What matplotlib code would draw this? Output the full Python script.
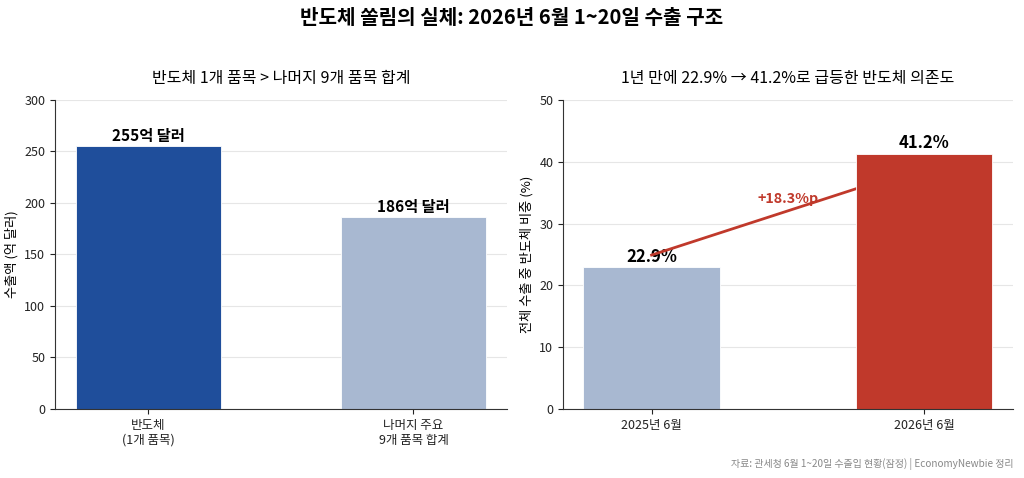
import matplotlib
matplotlib.use("Agg")
import matplotlib.pyplot as plt

plt.rcParams['font.family'] = ['Noto Sans CJK KR', 'DejaVu Sans']

# data
left_cats = ['반도체\n(1개 품목)', '나머지 주요\n9개 품목 합계']
left_vals = [255, 186]
left_labels = ['255억 달러', '186억 달러']

right_cats = ['2025년 6월', '2026년 6월']
right_vals = [22.9, 41.2]
right_labels = ['22.9%', '41.2%']
diff_label = '+18.3%p'

blue_dark = '#1f4e9b'
blue_light = '#a8b8d1'
red = '#c0392b'

fig = plt.figure(figsize=(10.24, 4.78), dpi=100)
ax1 = fig.add_axes([0.0537, 0.1444, 0.4413, 0.6466])
ax2 = fig.add_axes([0.5498, 0.1444, 0.4392, 0.6466])

for ax in (ax1, ax2):
    ax.spines['top'].set_visible(False)
    ax.spines['right'].set_visible(False)
    ax.spines['left'].set_color('#333333')
    ax.spines['bottom'].set_color('#333333')
    ax.yaxis.grid(True, color='#e6e6e6', linewidth=0.8, zorder=0)
    ax.set_axisbelow(True)
    ax.tick_params(labelsize=9, colors='#222222')

# left panel
x1 = range(len(left_cats))
ax1.bar(x1, left_vals, width=0.55, color=[blue_dark, blue_light],
        edgecolor='white', linewidth=0.6, zorder=2)
for i, (v, t) in enumerate(zip(left_vals, left_labels)):
    ax1.text(i, v + 2, t, ha='center', va='bottom', fontsize=11,
             fontweight='bold', zorder=1)
ax1.set_xticks(list(x1))
ax1.set_xticklabels(left_cats)
ax1.set_ylim(0, 300)
ax1.set_yticks(range(0, 301, 50))
ax1.set_ylabel('수출액 (억 달러)', fontsize=9.5)
ax1.set_title('반도체 1개 품목 > 나머지 9개 품목 합계', fontsize=11.5, pad=12)

# right panel
x2 = range(len(right_cats))
ax2.bar(x2, right_vals, width=0.5, color=[blue_light, red],
        edgecolor='white', linewidth=0.6, zorder=2)
for i, (v, t) in enumerate(zip(right_vals, right_labels)):
    ax2.text(i, v + 0.3, t, ha='center', va='bottom', fontsize=12,
             fontweight='bold', zorder=1)
ax2.plot([0, 1], [right_vals[0] + 2, right_vals[1] - 2], color=red,
         linewidth=2, zorder=1.5)
ax2.text(0.5, 32.9, diff_label, ha='center', va='bottom', fontsize=10.3,
         fontweight='bold', color=red, zorder=1.6)
ax2.set_xticks(list(x2))
ax2.set_xticklabels(right_cats)
ax2.set_ylim(0, 50)
ax2.set_yticks(range(0, 51, 10))
ax2.set_ylabel('전체 수출 중 반도체 비중 (%)', fontsize=9.5)
ax2.set_title('1년 만에 22.9% → 41.2%로 급등한 반도체 의존도', fontsize=11.5, pad=12)

fig.suptitle('반도체 쏠림의 실체: 2026년 6월 1~20일 수출 구조', fontsize=14.5,
             fontweight='bold', y=0.985)
fig.text(0.99, 0.03, '자료: 관세청 6월 1~20일 수출입 현황(잠정) | EconomyNewbie 정리',
         ha='right', va='center', fontsize=7.2, color='#888888')

fig.savefig('out.png', dpi=100)
